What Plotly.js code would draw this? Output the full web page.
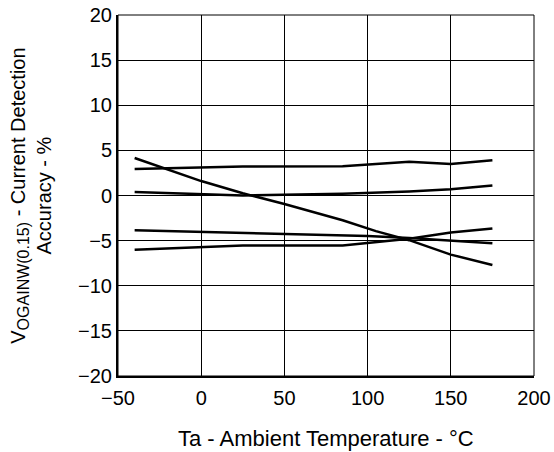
<!DOCTYPE html>
<html>
<head>
<meta charset="utf-8">
<script src="https://cdn.plot.ly/plotly-3.0.1.min.js"></script>
<style>html,body{margin:0;padding:0;background:#fff;}#chart{width:554px;height:452px;}</style>
</head>
<body>
<div id="chart"></div>
<script>
// Temperature (°C) and accuracy (%)
var tempA = [-40, 0, 25, 50, 85, 97, 105, 125, 150, 175];
var accA  = [4.15, 1.6, 0.25, -0.95, -2.75, -3.45, -3.95, -4.95, -6.55, -7.7];

var tempB = [-40, 0, 25, 85, 125, 150, 175];
var accB  = [2.95, 3.1, 3.2, 3.25, 3.75, 3.5, 3.9];

var tempC = [-40, 0, 25, 85, 125, 150, 175];
var accC  = [0.4, 0.15, 0.0, 0.2, 0.45, 0.7, 1.1];

var tempD = [-40, 0, 25, 85, 100, 125, 150, 175];
var accD  = [-3.85, -4.05, -4.15, -4.4, -4.5, -4.7, -5.0, -5.3];

var tempE = [-40, 0, 25, 85, 100, 125, 150, 175];
var accE  = [-6.0, -5.75, -5.55, -5.55, -5.3, -4.8, -4.1, -3.65];

var xTicks = [-50, 0, 50, 100, 150, 200];
var yTicks = [-20, -15, -10, -5, 0, 5, 10, 15, 20];

var xTitle = "Ta - Ambient Temperature - °C";
var yTitle = "V<sub><span style=\"font-size:16px\">OGAINW(0.15)</span></sub> - Current Detection<br>Accuracy - %";

var FONT = "Liberation Sans, Arial, Helvetica, sans-serif";
var lineStyle = {color: "#000", width: 2.5};

var series = [[tempA, accA], [tempB, accB], [tempC, accC], [tempD, accD], [tempE, accE]];
var traces = series.map(function (s) {
  return {x: s[0], y: s[1], type: "scatter", mode: "lines", line: lineStyle,
          hoverinfo: "skip", showlegend: false};
});

var layout = {
  width: 554, height: 452,
  margin: {l: 118, r: 20, t: 15, b: 76},
  paper_bgcolor: "#fff", plot_bgcolor: "#fff",
  font: {family: FONT, size: 20, color: "#000"},
  showlegend: false,
  xaxis: {
    range: [-50, 200], tickvals: xTicks, ticks: "", showgrid: true,
    gridcolor: "#000", gridwidth: 1, zeroline: false,
    showline: true, linecolor: "#000", linewidth: 2, ticklabelstandoff: 3,
    tickfont: {family: FONT, size: 20, color: "#000"}, fixedrange: true
  },
  yaxis: {
    range: [-20, 20], tickvals: yTicks, ticks: "", showgrid: true,
    gridcolor: "#000", gridwidth: 1, zeroline: false,
    showline: true, linecolor: "#000", linewidth: 2,
    tickfont: {family: FONT, size: 20, color: "#000"}, fixedrange: true
  },
  shapes: [{type: "rect", xref: "paper", yref: "paper", x0: 0, x1: 1, y0: 0, y1: 1,
            line: {color: "#000", width: 1}, fillcolor: "rgba(0,0,0,0)"}],
  annotations: [
    {text: xTitle, xref: "paper", yref: "paper", x: 0.5, y: -0.172,
     xanchor: "center", yanchor: "middle", showarrow: false,
     font: {family: FONT, size: 22, color: "#000"}},
    {text: yTitle, xref: "paper", yref: "paper", x: -0.211, y: 0.5,
     xanchor: "center", yanchor: "middle", showarrow: false, textangle: -90,
     align: "center", font: {family: FONT, size: 20, color: "#000"}}
  ]
};

Plotly.newPlot("chart", traces, layout, {staticPlot: true, displayModeBar: false});
</script>
</body>
</html>
